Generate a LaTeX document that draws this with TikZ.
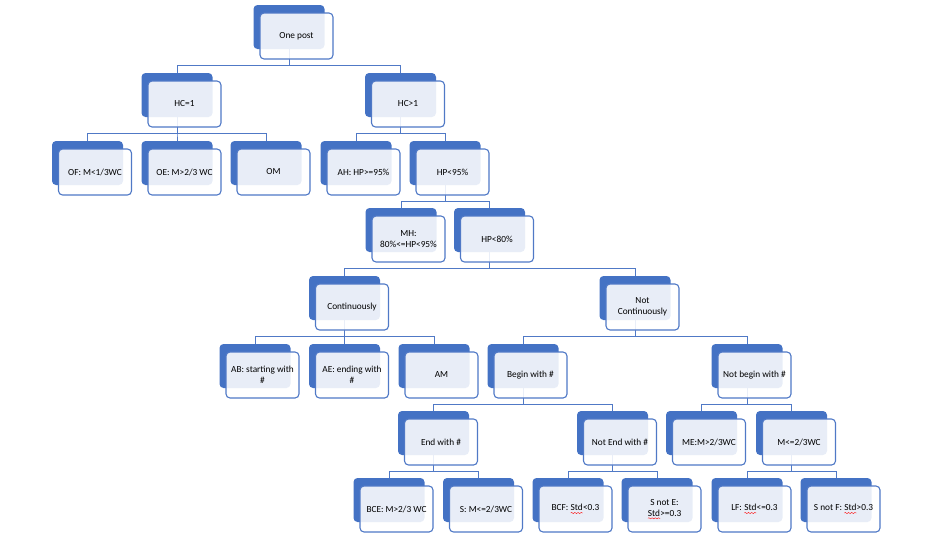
\documentclass[tikz,border=0pt]{standalone}
\usepackage{fontspec}
\setmainfont{Carlito}
\usetikzlibrary{backgrounds,decorations.pathmorphing}
\definecolor{myblue}{HTML}{4472C4}
\definecolor{lineblue}{HTML}{5079C6}
\newcommand\redwave[1]{\tikz[baseline=(w.base)]{\node[inner sep=0,outer sep=0,draw=none,fill=none,minimum width=0,minimum height=0,rounded corners=0](w){#1};
  \draw[red, line width=0.4pt, draw opacity=1, sharp corners, decorate, decoration={snake,amplitude=0.55pt,segment length=3.2pt}] ([yshift=-2.3pt]w.base west) -- ([yshift=-2.3pt]w.base east);}}
\tikzset{
  backbox/.style={fill=myblue, rounded corners=4, minimum width=71, minimum height=44, inner sep=0, outer sep=0},
  frontbox/.style={draw=lineblue, line width=1.1, fill=white, fill opacity=0.88, text opacity=1,
    rounded corners=4, minimum width=73, minimum height=46, inner sep=1, outer sep=0, align=center,
    font=\fontsize{9.3}{11}\selectfont, text=black},
  conn/.style={draw=lineblue, line width=1}
}
\newcommand\tnode[4]{\node[backbox] (#1) at (#2,#3) {};\node[frontbox] (#1f) at (#2+7.5,#3+9) {#4};}
\newcommand\tlink[2]{\draw[conn] (#1.south) -- ++(0,16) -| (#2.north);}
\begin{document}
\begin{tikzpicture}[x=1pt,y=-1pt]
\useasboundingbox (0,0) rectangle (939,541);
\tnode{op}{289}{27}{One post}
\tnode{hca}{177}{95}{HC=1}
\tnode{hcb}{400.5}{95}{HC>1}
\tnode{of}{87.5}{163}{OF: M<1/3WC}
\tnode{oe}{177}{163}{OE: M>2/3 WC}
\tnode{om}{266}{163}{OM}
\tnode{ah}{356}{163}{AH: HP>=95\%}
\tnode{hpa}{445}{163}{HP<95\%}
\tnode{mh}{401}{230}{MH:\\80\%<=HP<95\%}
\tnode{hpb}{489.5}{230}{HP<80\%}
\tnode{cont}{344.5}{298}{Continuously}
\tnode{ncont}{635}{298}{Not\\Continuously}
\tnode{ab}{255}{366}{AB: starting with\\\#}
\tnode{ae}{344.5}{366}{AE: ending with\\\#}
\tnode{am}{434}{366}{AM}
\tnode{bw}{523}{366}{Begin with \#}
\tnode{nbw}{747}{366}{Not begin with \#}
\tnode{ew}{433.5}{433}{End with \#}
\tnode{new}{612.5}{433}{Not End with \#}
\tnode{me}{701.5}{433}{ME:M>2/3WC}
\tnode{mle}{791.5}{433}{M<=2/3WC}
\tnode{bce}{389}{500}{BCE: M>2/3 WC}
\tnode{s}{478.5}{500}{S: M<=2/3WC}
\tnode{bcf}{568}{500}{BCF: \redwave{Std}<0.3}
\tnode{sne}{657}{500}{S not E:\\\redwave{Std}>=0.3}
\tnode{lf}{747}{500}{LF: \redwave{Std}<=0.3}
\tnode{snf}{836}{500}{S not F: \redwave{Std}>0.3}
\begin{pgfonlayer}{background}
\tlink{op}{hca}\tlink{op}{hcb}
\tlink{hca}{of}\tlink{hca}{oe}\tlink{hca}{om}
\tlink{hcb}{ah}\tlink{hcb}{hpa}
\tlink{hpa}{mh}\tlink{hpa}{hpb}
\tlink{hpb}{cont}\tlink{hpb}{ncont}
\tlink{cont}{ab}\tlink{cont}{ae}\tlink{cont}{am}
\tlink{ncont}{bw}\tlink{ncont}{nbw}
\tlink{bw}{ew}\tlink{bw}{new}
\tlink{nbw}{me}\tlink{nbw}{mle}
\tlink{ew}{bce}\tlink{ew}{s}
\tlink{new}{bcf}\tlink{new}{sne}
\tlink{mle}{lf}\tlink{mle}{snf}
\end{pgfonlayer}
\end{tikzpicture}
\end{document}
